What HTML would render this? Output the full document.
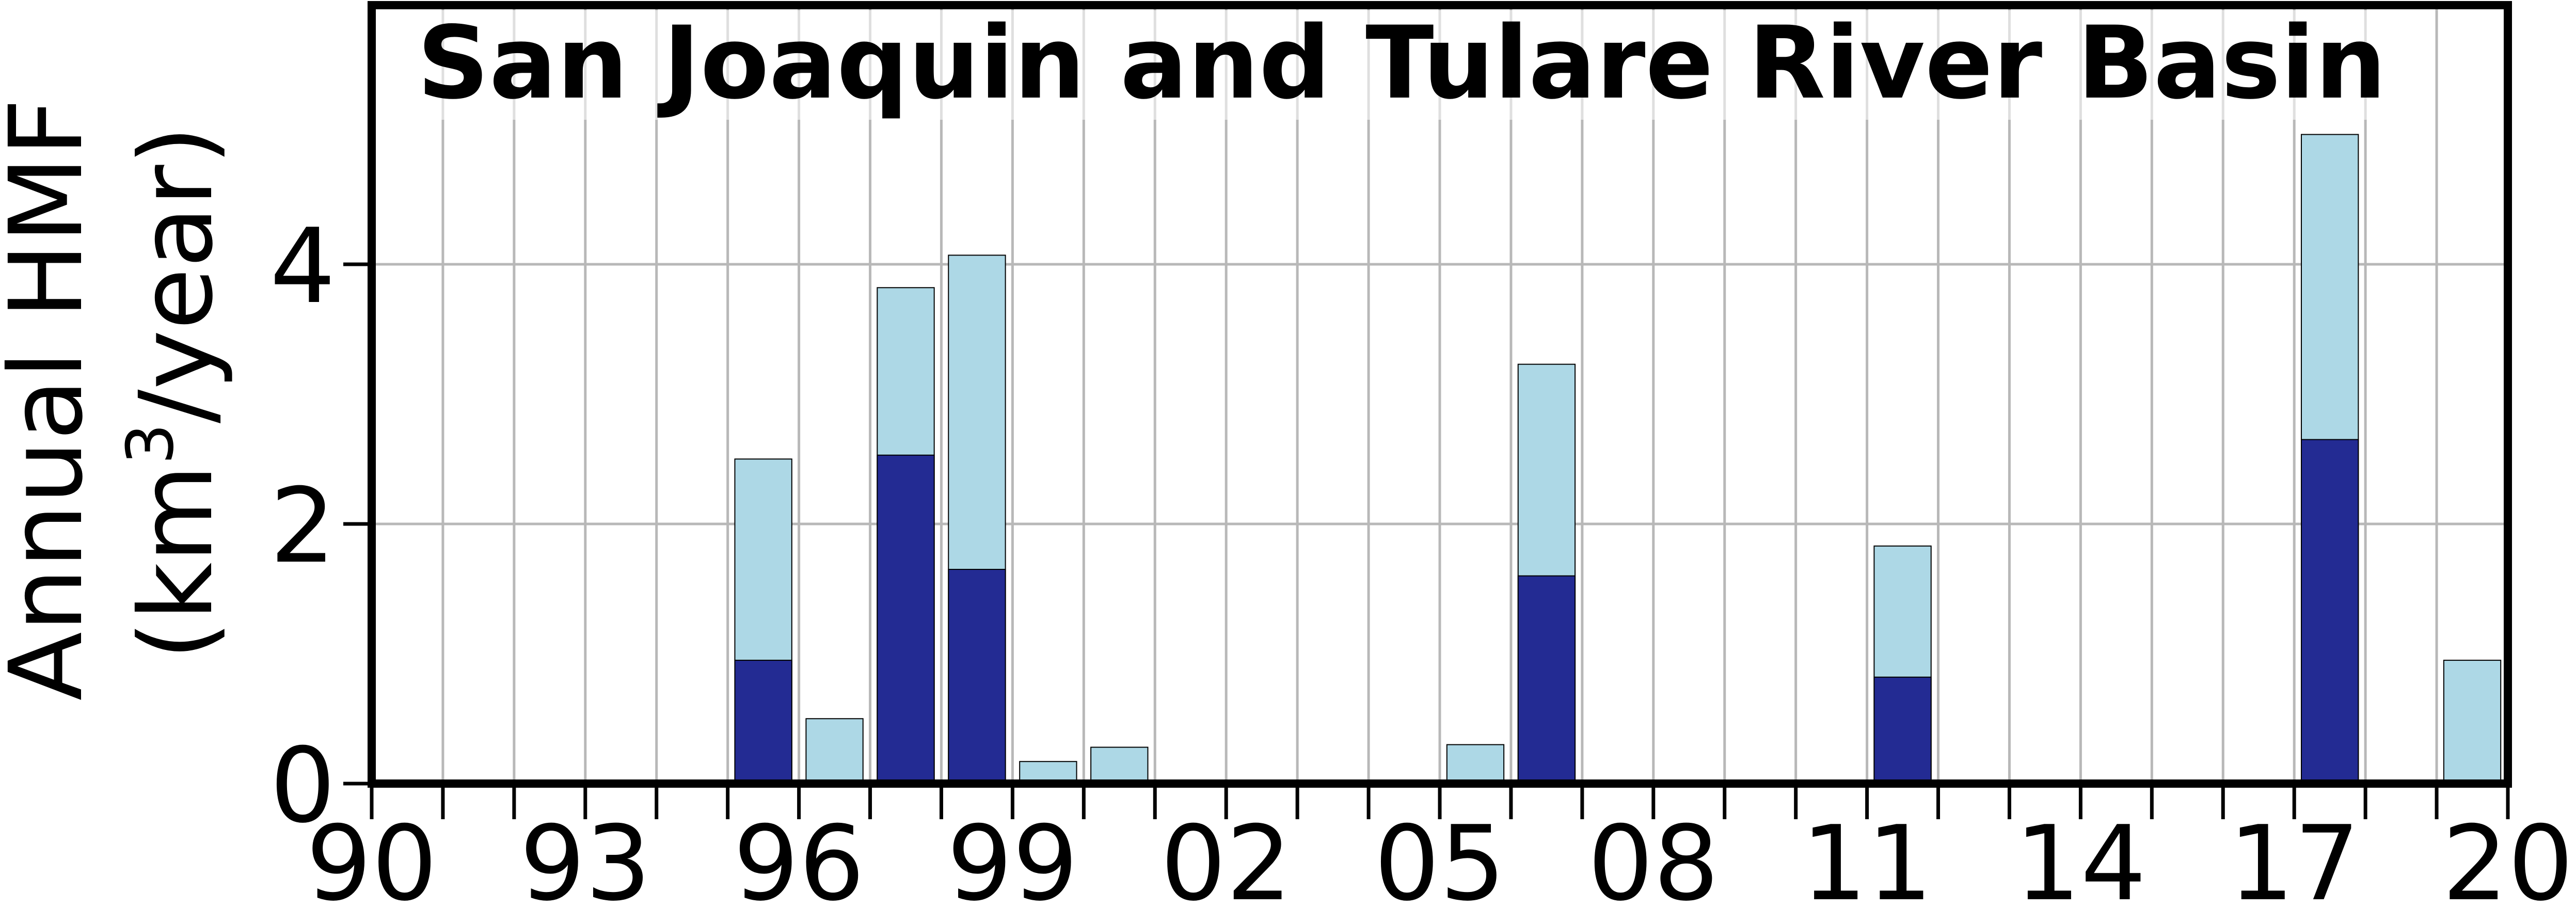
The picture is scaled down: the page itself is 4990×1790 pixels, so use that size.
<!DOCTYPE html>
<html><head><meta charset="utf-8"><style>
html,body{margin:0;padding:0;background:#fff;}
svg{display:block;font-family:"DejaVu Sans","Liberation Sans",sans-serif;}
</style></head><body>
<svg id="chart" width="4990" height="1790" viewBox="0 0 4990 1790" xmlns="http://www.w3.org/2000/svg">
<g id="grid"></g>
<g id="bars"></g>
<rect x="790" y="20" width="3880" height="212" fill="#fff" fill-opacity="0.55"/>
<text x="808" y="189" font-size="194" font-weight="bold" fill="#000">San Joaquin and Tulare River Basin</text>
<g id="axes"></g>
<g>
<text transform="translate(157,774) rotate(-90)" text-anchor="middle" font-size="195" fill="#000">Annual HMF</text>
<text transform="translate(409,761) rotate(-90)" text-anchor="middle" font-size="195" fill="#000">(km<tspan font-size="125" dy="-75">3</tspan><tspan dy="75">/year)</tspan></text>
</g>
</svg>
<script>
const years = [1995,1996,1997,1998,1999,2000,2005,2006,2011,2017,2019];
const totalValues = [2.5,0.5,3.82,4.07,0.17,0.28,0.3,3.23,1.83,5.0,0.95];
const darkValues = [0.95,0,2.53,1.65,0,0,0,1.6,0.82,2.65,0];
const xTickLabels = ["90","93","96","99","02","05","08","11","14","17","20"];
const yTickValues = [0,2,4];

const NS="http://www.w3.org/2000/svg";
const X0=720,X1=4858,Y0=1518,YPU=251.5;
const xs=y=>X0+(y-1990)*(X1-X0)/30;
const ys=v=>Y0-v*YPU;
function mk(tag,attrs,parent){const e=document.createElementNS(NS,tag);for(const k in attrs)e.setAttribute(k,attrs[k]);parent.appendChild(e);return e;}
const grid=document.getElementById('grid'),bars=document.getElementById('bars'),axes=document.getElementById('axes');
for(let y=1991;y<2020;y++){
  const l=mk('line',{x1:xs(y),x2:xs(y),y1:10,y2:Y0,stroke:'#b8b8b8','stroke-width':5},grid);
  
  
}
yTickValues.forEach(v=>{
  if(v===0)return;
  const l=mk('line',{x1:X0,x2:X1,y1:ys(v),y2:ys(v),stroke:'#b8b8b8','stroke-width':5},grid);
  
  
});
years.forEach((yr,i)=>{
  const xl=xs(yr+0.1),w=xs(yr+0.9)-xl;
  const t=mk('rect',{x:xl,y:ys(totalValues[i]),width:w,height:ys(0)-ys(totalValues[i]),fill:'#add8e6',stroke:'#000','stroke-width':2},bars);
  
  
  if(darkValues[i]>0){
    const d=mk('rect',{x:xl,y:ys(darkValues[i]),width:w,height:ys(0)-ys(darkValues[i]),fill:'#232b93',stroke:'#000','stroke-width':2},bars);
    
    
  }
});
mk('rect',{x:X0,y:10,width:X1-X0,height:Y0-10,fill:'none',stroke:'#000','stroke-width':16},axes);
for(let y=1990;y<=2020;y++){
  const t=mk('line',{x1:xs(y),x2:xs(y),y1:Y0,y2:1587,stroke:'#000','stroke-width':7},axes);
  
  
}
xTickLabels.forEach((lab,i)=>{
  const t=mk('text',{x:xs(1990+i*3),y:1742,'text-anchor':'middle','font-size':200,fill:'#000'},axes);
  t.textContent=lab;
  
  
});
yTickValues.forEach(v=>{
  const l=mk('line',{x1:665,x2:X0,y1:ys(v),y2:ys(v),stroke:'#000','stroke-width':7},axes);
  
  
  const t=mk('text',{x:650,y:ys(v)+73,'text-anchor':'end','font-size':200,fill:'#000'},axes);
  t.textContent=String(v);
  
  
});
</script>
</body></html>
